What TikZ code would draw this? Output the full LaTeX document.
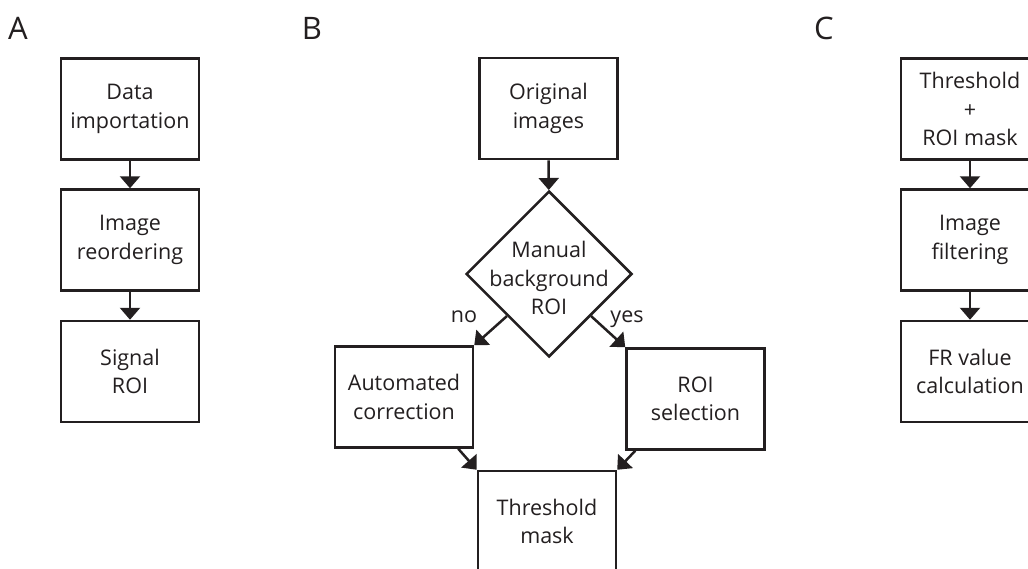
\documentclass[tikz,border=0pt]{standalone}
\usepackage{fontspec}
\setmainfont{Open Sans}
\usetikzlibrary{arrows.meta,shapes.geometric,calc}
\definecolor{ink}{RGB}{35,31,32}
\tikzset{
  box/.style={draw=ink,line width=2.5pt,minimum width=138pt,minimum height=101pt,inner sep=0pt,
    align=center,text=ink,font=\fontsize{21.5}{28.5}\selectfont},
  dia/.style={draw=ink,line width=2.5pt,shape=diamond,minimum width=166pt,minimum height=166pt,inner sep=0pt},
  txt/.style={align=center,text=ink,font=\fontsize{21.5}{28.5}\selectfont,inner sep=0pt},
  panel/.style={text=ink,font=\fontsize{31}{36}\selectfont,anchor=base,inner sep=0pt},
  arr/.style={draw=ink,line width=2.5pt,-{Triangle[width=20pt,length=12pt]}}
}
\begin{document}
\begin{tikzpicture}[x=1pt,y=-1pt]
\useasboundingbox (0,0) rectangle (1028,568);
\clip (0,0) rectangle (1028,568);
\fill[white] (0,0) rectangle (1028,568);
% panel labels
\node[panel] (lA) at (18,39) {A};
\node[panel] (lB) at (312,39) {B};
\node[panel] (lC) at (824,39) {C};
% panel A
\node[box] (a1) at (130,109) {Data\\importation};
\node[box] (a2) at (130,240) {Image\\reordering};
\node[box] (a3) at (130,371.5) {Signal\\ROI};
\draw[arr] (a1) -- (a2);
\draw[arr] (a2) -- (a3);
% panel B
\node[box] (b1) at (548.5,108.5) {Original\\images};
\node[dia] (d) at (549,274) {};
\node[txt] (dtext) at (549,278) {Manual\\background\\ROI};
\node[box] (auto) at (404,397) {Automated\\correction};
\node[box] (roi) at (695.5,399) {ROI\\selection};
\node[box] (thr) at (547,521.5) {Threshold\\mask};
\draw[arr] (b1) -- (d);
\draw[arr] ($(d.west)!0.5!(d.south)$) -- (auto.north east);
\draw[arr] ($(d.east)!0.5!(d.south)$) -- (roi.north west);
\draw[arr] ([xshift=-16pt]auto.south east) -- (thr.north west);
\draw[arr] ([xshift=10pt]roi.south west) -- (thr.north east);
\node[txt,anchor=base] (no) at (464,322) {no};
\node[txt,anchor=base] (yes) at (627,322) {yes};
% panel C
\node[box] (c1) at (970,109) {Threshold\\+\\ROI mask};
\node[box] (c2) at (970,240) {Image\\filtering};
\node[box] (c3) at (970,371.5) {FR value\\calculation};
\draw[arr] (c1) -- (c2);
\draw[arr] (c2) -- (c3);
\end{tikzpicture}
\end{document}
